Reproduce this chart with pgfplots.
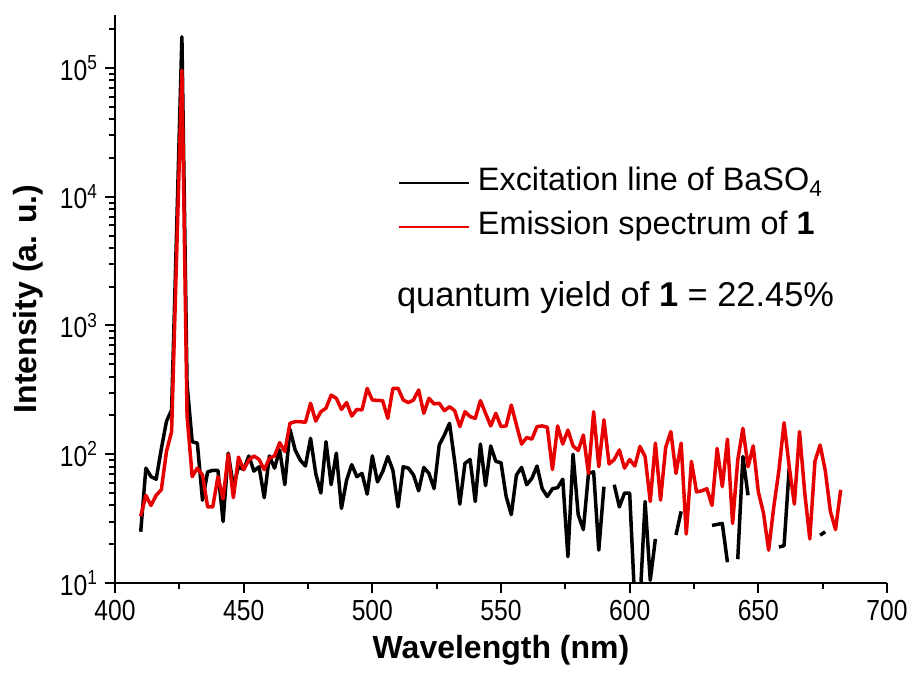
\documentclass[border=0pt]{standalone}
\usepackage{fontspec}
\setmainfont{Liberation Sans}
\newfontfamily\narrowfont{Liberation Sans}[FakeStretch=0.85]
\usepackage{pgfplots}
\usepackage{pgfplotstable}
\pgfplotsset{compat=1.18}
\definecolor{specred}{RGB}{230,0,0}

\pgfplotstableread{
x b r
410 25 33
412 78 48
414 67 40
416 64 48
418 110 53
420 180 105
422 221 150
424 6000 3800
426 175000 96000
428 350 200
430 125 67
432 122 78
434 44 69
436 73 39
438 75 39
440 75 67
442 30 45
444 102 100
446 56 46
448 80 95
450 76 76
452 97 90
454 74 97
456 80 91
458 46 76
460 97 93
462 78 97
464 108 123
466 58 105
468 156 174
470 108 179
472 90 179
474 81 177
476 133 249
478 71 181
480 50 214
482 125 228
484 58 288
486 102 272
488 38 223
490 63 252
492 83 198
494 67 223
496 71 221
498 49 325
500 97 264
502 61 262
504 73 261
506 96 190
508 75 325
510 39 325
512 80 264
514 78 252
516 69 264
518 52 316
520 79 208
522 71 272
524 54 246
526 118 249
528 141 218
530 174 234
532 88 218
534 41 164
536 85 214
538 91 196
540 43 190
542 120 261
544 57 208
546 116 166
548 88 208
550 86 164
552 47 166
554 34 241
556 69 169
558 79 120
560 58 135
562 65 131
564 81 164
566 54 166
568 47 162
570 54 76
572 55 166
574 64 120
576 16 154
578 100 116
580 34 107
582 26 141
584 71 71
586 73 214
588 18 80
590 56 185
592 nan 84
594 58 91
596 39 108
598 50 78
600 50 91
602 7 81
604 7 115
606 43 96
608 10.5 43
610 22 122
612 nan 44
614 nan 113
616 nan 150
618 23.6 71
620 36 122
622 nan 24
624 nan 88
626 nan 51
628 nan 52
630 nan 54
632 28 40
634 28.5 111
636 29 56
638 14.5 131
640 nan 29
642 15.3 90
644 96 159
646 48 80
648 nan 116
650 nan 51
652 nan 35
654 nan 18
656 nan 39
658 19 75
660 19.5 176
662 78 80
664 nan 41
666 nan 150
668 nan 51
670 nan 22
672 nan 88
674 23.5 118
676 25 75
678 nan 36
680 nan 26
682 nan 53
}\spectra

\begin{document}
\begin{tikzpicture}
\path[use as bounding box] (-57.5pt,-46pt) rectangle (401pt,291.5pt);
\begin{axis}[
  at={(0pt,0pt)}, anchor=south west,
  scale only axis, width=386pt, height=284pt,
  xmin=400, xmax=700, ymin=10, ymax=2.58e5,
  ymode=log, log basis y=10,
  axis x line*=bottom, axis y line*=left,
  axis line style={-, line width=1pt},
  tick align=outside,
  major tick length=5pt, minor tick length=3pt,
  every tick/.style={black, line width=1pt},
  xtick={400,450,500,550,600,650,700},
  minor x tick num=1,
  ytick={10,100,1000,10000,100000},
  yticklabels={10\textsuperscript{1},10\textsuperscript{2},10\textsuperscript{3},10\textsuperscript{4},10\textsuperscript{5}},
  minor ytick={20,30,40,50,60,70,80,90,200,300,400,500,600,700,800,900,2000,3000,4000,5000,6000,7000,8000,9000,20000,30000,40000,50000,60000,70000,80000,90000,200000},
  /pgf/number format/assume math mode=true,
  ticklabel style={font=\narrowfont\fontsize{14.5}{16}\selectfont},
  xlabel={\textbf{Wavelength (nm)}},
  ylabel={\textbf{Intensity (a. u.)}},
  label style={font=\fontsize{16}{19}\selectfont},
  xlabel style={at={(axis description cs:0.5,-0.118)}, anchor=center},
  ylabel style={at={(axis description cs:-0.1127,0.5)}, anchor=center},
  legend cell align=left,
  legend image code/.code={\draw[#1, line width=1pt] (0pt,0pt) -- (35pt,0pt);},
  legend style={at={(0.366,0.735)}, anchor=north west, draw=none, fill=none,
    inner sep=0pt, row sep=4.5pt, font=\fontsize{16.2}{19}\selectfont,
    nodes={text height=11.5pt, text depth=4pt, inner sep=1pt}},
]
\addplot[black, line width=1.75pt, line join=round, unbounded coords=jump] table[x=x, y=b] {\spectra};
\addlegendentry{\hspace{3pt}Excitation line of BaSO\textsubscript{4}}
\addplot[specred, line width=1.75pt, line join=round] table[x=x, y=r] {\spectra};
\addlegendentry{\hspace{3pt}Emission spectrum of \textbf{1}}
\node[anchor=base west, font=\fontsize{17.2}{20}\selectfont, inner sep=0pt] at (rel axis cs:0.3648,0.486) {quantum yield of \textbf{1} = 22.45\%};
\end{axis}
\end{tikzpicture}
\end{document}
